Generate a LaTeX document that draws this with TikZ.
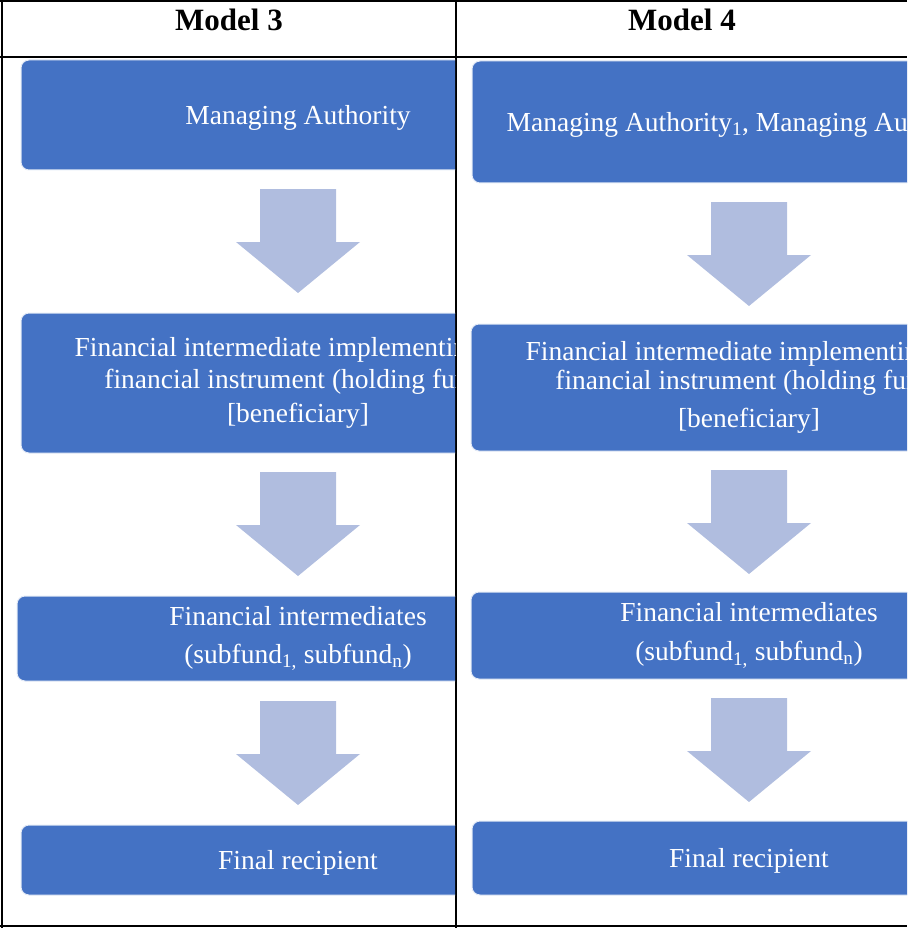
\documentclass[tikz,border=0pt]{standalone}
\usepackage{fontspec}
\setmainfont{Liberation Serif}
\usetikzlibrary{positioning}
\definecolor{boxblue}{RGB}{68,114,196}
\definecolor{arrowblue}{RGB}{176,189,223}
\tikzset{
  stepbox/.style   = {shape=rectangle, rounded corners=8pt,
                      fill=boxblue, draw=white!85!boxblue, line width=1pt,
                      text=white, align=center, inner sep=0pt,
                      font=\fontsize{27.5}{33}\selectfont,
                      execute at begin node={\rule{0pt}{25pt}}},
  header/.style    = {font=\fontsize{31}{36}\selectfont\bfseries},
  rule/.style      = {line width=1.6pt},
  flowarrow/.pic   = {\fill[arrowblue] (-38,0) -- (38,0) -- (38,53) -- (62,53)
                      -- (0,104) -- (-62,53) -- (-38,53) -- cycle;}
}

\begin{document}
\begin{tikzpicture}[x=1pt, y=-1pt]
  \useasboundingbox (0,0) rectangle (907,928);

  % table
  \draw[rule] (0,1) -- (907,1);
  \draw[rule] (0,57) -- (907,57);
  \draw[rule] (0,926) -- (907,926);
  \draw[rule] (2,0) -- (2,928);
  \draw[rule] (456,0) -- (456,928);

  \node [header] (m3) at (229,20) {Model 3};
  \node [header] (m4) at (682,20) {Model 4};

  % Model 3
  \begin{scope}
    \clip (3,58) rectangle (455,925);
    \node [stepbox, minimum width=554, minimum height=110] (ma3) at (298,115)
      {Managing Authority};
    \pic at (298,189) {flowarrow};
    \node [stepbox, minimum width=554, minimum height=140] (hf3) at (298,383)
      {Financial intermediate implementing the\\[-1pt]
       financial instrument (holding fund)\\[1pt]
       [beneficiary]};
    \pic at (298,472) {flowarrow};
    \node [stepbox, minimum width=562, minimum height=85] (fi3) at (298,638.5)
      {Financial intermediates\\[5pt]
       (subfund\textsubscript{1,} subfund\textsubscript{n})};
    \pic at (298,701) {flowarrow};
    \node [stepbox, minimum width=554, minimum height=70] (fr3) at (298,860)
      {Final recipient};
  \end{scope}

  % Model 4
  \begin{scope}
    \clip (457,58) rectangle (907,925);
    \node [stepbox, minimum width=554, minimum height=122] (ma4) at (749,122)
      {Managing Authority\textsubscript{1}, Managing Authority\textsubscript{n}};
    \pic at (749,202) {flowarrow};
    \node [stepbox, minimum width=556, minimum height=127] (hf4) at (749,387.5)
      {Financial intermediate implementing the\\[-4pt]
       financial instrument (holding fund)\\[5pt]
       [beneficiary]};
    \pic at (749,470) {flowarrow};
    \node [stepbox, minimum width=556, minimum height=87] (fi4) at (749,635.5)
      {Financial intermediates\\[6pt]
       (subfund\textsubscript{1,} subfund\textsubscript{n})};
    \pic at (749,698) {flowarrow};
    \node [stepbox, minimum width=554, minimum height=74] (fr4) at (749,858)
      {Final recipient};
  \end{scope}
\end{tikzpicture}
\end{document}
